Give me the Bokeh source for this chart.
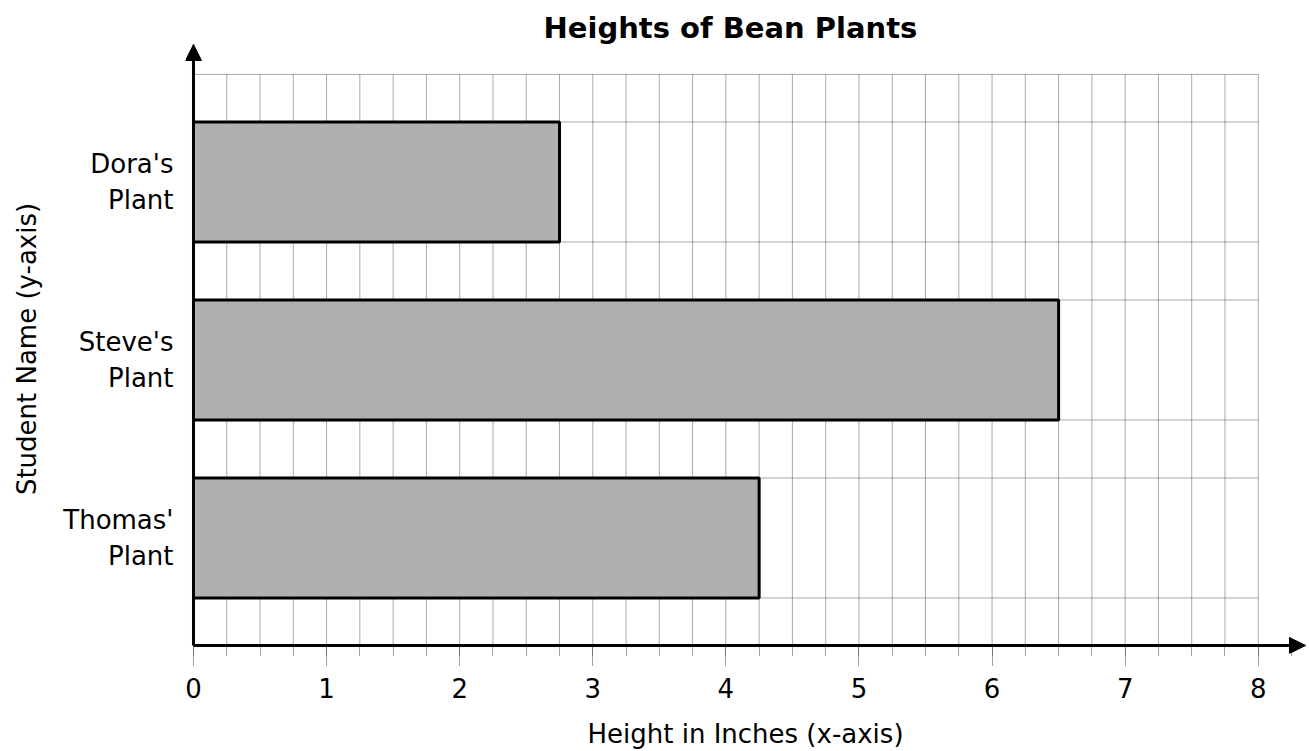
import numpy as np
from bokeh.plotting import figure
from bokeh.models import Range1d, SingleIntervalTicker, FixedTicker, Arrow, NormalHead
from bokeh.embed import file_html
from bokeh.resources import INLINE

# ---- data ----
students = ["Dora's\nPlant", "Steve's\nPlant", "Thomas'\nPlant"]
heights = [2.75, 6.5, 4.25]
rows = [3, 2, 1]
x_ticks = list(range(0, 9))
title = "Heights of Bean Plants"
x_label = "Height in Inches (x-axis)"
y_label = "Student Name (y-axis)"

FONT = "DejaVu Sans"
bar_h = 0.674
axis_y = 0.396          # where the x axis crosses
grid_top = 3.604
pad_x = 0.06            # small room so the arrow heads are not cut
pad_y = 0.045
x_end = 8.355
y_end = 3.772

p = figure(width=1309, height=751, output_backend="svg", toolbar_location=None,
           x_range=Range1d(-pad_x, x_end), y_range=Range1d(axis_y - pad_y, y_end),
           min_border_left=185, min_border_right=4, min_border_top=44, min_border_bottom=98)
p.outline_line_color = None
p.background_fill_color = "white"
p.border_fill_color = "white"
p.xgrid.visible = False
p.ygrid.visible = False

p.title.text = title
p.title.align = "left"
p.title.offset = 358
p.title.text_font = FONT
p.title.text_font_size = "29px"
p.title.text_font_style = "bold"
p.title.text_color = "black"
p.title.standoff = 0

# grid
step = 0.25
vx = np.arange(step, x_ticks[-1] + 0.001, step)
p.segment(x0=vx, y0=axis_y, x1=vx, y1=grid_top, line_color="#555555", line_width=1, line_dash="1 1")
hy = [grid_top] + [r + s * bar_h / 2 for r in rows for s in (1, -1)]
p.segment(x0=0, y0=hy, x1=x_ticks[-1], y1=hy, line_color="#555555", line_width=1, line_dash="1 1")

# bars
p.hbar(y=rows, left=0, right=heights, height=bar_h, fill_color="#b0b0b0",
       line_color="black", line_width=3)

# x axis (line drawn by the arrow)
xa = p.xaxis[0]
xa.ticker = SingleIntervalTicker(interval=1, num_minor_ticks=4)
xa.axis_line_color = None
xa.major_tick_in = 8
xa.major_tick_out = 12
xa.minor_tick_in = 8
xa.minor_tick_out = 2
xa.major_tick_line_color = "#444444"
xa.minor_tick_line_color = "#444444"
xa.major_tick_line_dash = "1 1"
xa.minor_tick_line_dash = "1 1"
xa.major_label_text_font = FONT
xa.major_label_text_font_size = "26px"
xa.major_label_text_color = "black"
xa.major_label_text_line_height = 0.9
xa.major_label_standoff = 12
xa.axis_label = x_label
xa.axis_label_text_font = FONT
xa.axis_label_text_font_size = "26px"
xa.axis_label_text_font_style = "normal"
xa.axis_label_text_color = "black"
xa.axis_label_text_line_height = 0.9
xa.axis_label_standoff = 18

# y axis (line drawn by the arrow)
ya = p.yaxis[0]
ya.ticker = FixedTicker(ticks=rows)
ya.major_label_overrides = {r: s for r, s in zip(rows, students)}
ya.axis_line_color = None
ya.major_tick_in = 0
ya.major_tick_out = 0
ya.minor_tick_line_color = None
ya.major_label_text_font = FONT
ya.major_label_text_font_size = "26px"
ya.major_label_text_color = "black"
ya.major_label_text_line_height = 1.2
ya.major_label_standoff = 12
ya.axis_label = y_label
ya.axis_label_text_font = FONT
ya.axis_label_text_font_size = "26px"
ya.axis_label_text_font_style = "normal"
ya.axis_label_text_color = "black"
ya.axis_label_standoff = 18

# axes lines with arrow heads
p.add_layout(Arrow(end=NormalHead(size=16, fill_color="black", line_color="black"),
                   x_start=0, y_start=axis_y, x_end=0, y_end=y_end, line_width=3))
p.add_layout(Arrow(end=NormalHead(size=16, fill_color="black", line_color="black"),
                   x_start=0, y_start=axis_y, x_end=x_end, y_end=axis_y, line_width=3))

open("out.html", "w").write(file_html(p, INLINE))
